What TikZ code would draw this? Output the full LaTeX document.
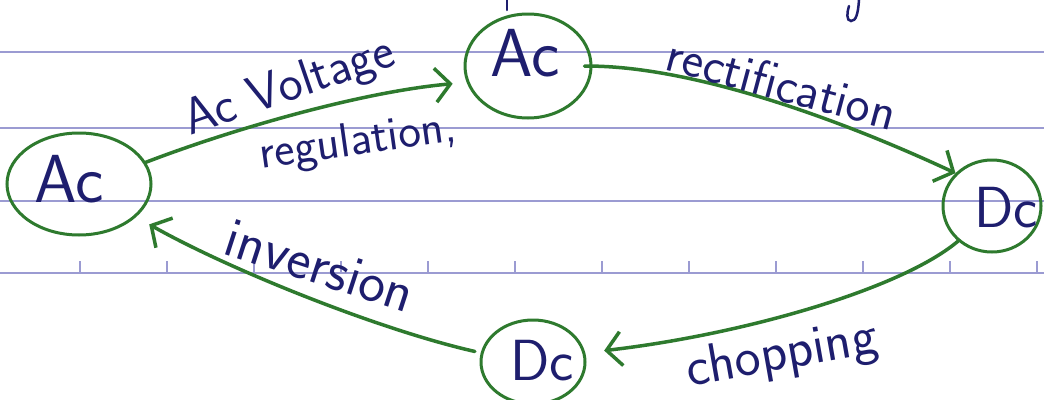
\documentclass[tikz,border=0pt]{standalone}
\usetikzlibrary{arrows.meta,shapes.geometric}
\definecolor{pen}{RGB}{30,30,110}
\definecolor{ink}{RGB}{46,122,46}
\definecolor{rule}{RGB}{155,155,210}
\tikzset{
  state/.style={ellipse,draw=ink,line width=3pt,inner sep=0pt},
  stlabel/.style={text=pen,font=\sffamily\fontsize{#1}{#1}\selectfont},
  flow/.style={draw=ink,line width=3.5pt,line cap=round,
    -{Straight Barb[length=15pt,width=34pt]}},
  note/.style={text=pen,inner sep=0pt,font=\sffamily\fontsize{#1}{#1}\selectfont},
  ruling/.style={draw=rule,line width=1.2pt},
}
\begin{document}
\begin{tikzpicture}[x=1pt,y=-1pt]
\useasboundingbox (0,0) rectangle (1044,399);
\fill[white] (0,0) rectangle (1044,399);

% ruled paper
\foreach \yy in {52,128,201,273} \draw[ruling] (0,\yy) -- (1044,\yy);
\foreach \xx in {80,167,254,341,428,515,602,689,776,863,950,1037}
  \draw[ruling] (\xx,261) -- (\xx,273);

% stray pen strokes from the line above
\draw[pen,line width=2.5pt,line cap=round] (507,0) -- (507,10);
\draw[pen,line width=2.5pt,line cap=round]
  (859,0) .. controls (858,14) and (856,21) .. (851,21)
  .. controls (846,21) and (847,12) .. (849,6);

% states
\node[state,minimum width=144pt,minimum height=102pt,
  label={[stlabel=68,xshift=-10pt,yshift=5pt]center:Ac}] (A1) at (79,184) {};
\node[state,minimum width=126pt,minimum height=104pt,
  label={[stlabel=68,xshift=-3pt,yshift=13pt]center:Ac}] (A2) at (528,66) {};
\node[state,minimum width=98pt,minimum height=92pt,
  label={[stlabel=58,xshift=14pt,yshift=-2pt]center:Dc}] (D1) at (992,206) {};
\node[state,minimum width=104pt,minimum height=84pt,
  label={[stlabel=58,xshift=9pt,yshift=1pt]center:Dc}] (D2) at (533,362) {};

% conversions
\draw[flow,shorten >=14pt] (A1.18) .. controls (230,130) and (360,92) .. (A2.195);
\draw[flow,shorten <=-8pt] (A2.east) .. controls (680,65) and (820,110) .. (D1.138);
\draw[flow,shorten >=19pt] (D1.226) .. controls (900,290) and (740,335) .. (D2.10);
\draw[flow,shorten <=6pt,shorten >=15pt] (D2.170) .. controls (380,330) and (230,270) .. (A1.-30);

% labels
\node[note=51,rotate=19] (l1) at (290,88) {Ac Voltage};
\node[note=48,rotate=8] (l2) at (358,143) {regulation,};
\node[note=51,rotate=-15] (l3) at (782,83) {rectification};
\node[note=57,rotate=-18] (l4) at (320,266) {inversion};
\node[note=55,rotate=10] (l5) at (782,356) {chopping};
\end{tikzpicture}
\end{document}
